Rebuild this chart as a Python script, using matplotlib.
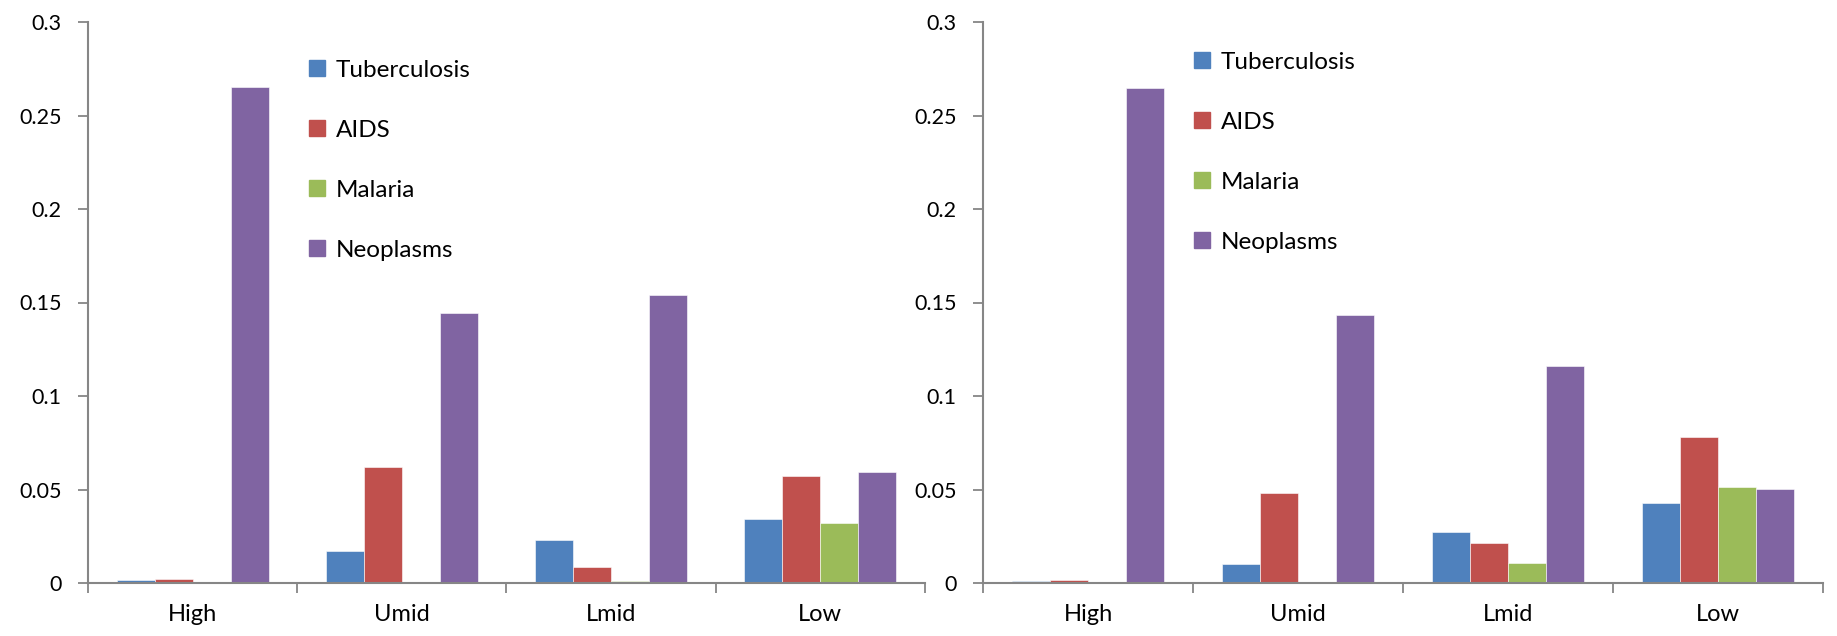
import numpy as np
import matplotlib
matplotlib.use("Agg")
import matplotlib.pyplot as plt
from matplotlib.lines import Line2D

plt.rcParams['font.family'] = ['Lato', 'DejaVu Sans']

categories = ['High', 'Umid', 'Lmid', 'Low']
diseases = ['Tuberculosis', 'AIDS', 'Malaria', 'Neoplasms']
colors = ['#4F81BD', '#C0504D', '#9BBB59', '#8064A2']

# left panel
left_tb = [0.0016, 0.0173, 0.0232, 0.0343]
left_aids = [0.0023, 0.0618, 0.0084, 0.0573]
left_malaria = [0.0, 0.0, 0.0013, 0.0323]
left_neo = [0.2654, 0.1445, 0.1539, 0.0591]

# right panel
right_tb = [0.0013, 0.0100, 0.0273, 0.0430]
right_aids = [0.0018, 0.0479, 0.0213, 0.0779]
right_malaria = [0.0, 0.0, 0.0109, 0.0516]
right_neo = [0.2648, 0.1432, 0.1163, 0.0502]

yticks = [0, 0.05, 0.1, 0.15, 0.2, 0.25, 0.3]
ytick_labels = ['0', '0.05', '0.1', '0.15', '0.2', '0.25', '0.3']

fig = plt.figure(figsize=(18.37, 6.36), dpi=100)
ax1 = fig.add_axes([88 / 1837, 53 / 636, 837 / 1837, 561 / 636])
ax2 = fig.add_axes([983 / 1837, 53 / 636, 840 / 1837, 561 / 636])

width = 1 / 5.5
start = 0.75 / 5.5


def draw_panel(ax, series, legend_anchor):
    x = np.arange(len(categories))
    for i, vals in enumerate(series):
        ax.bar(x + start + i * width, vals, width, align='edge', color=colors[i],
               edgecolor='white', linewidth=0.4, zorder=2)
    ax.set_xlim(0, 4)
    ax.set_ylim(0, 0.3)
    ax.set_yticks(yticks)
    ax.set_yticklabels(ytick_labels)
    ax.set_xticks(np.arange(5))
    ax.set_xticklabels([])
    ax.set_xticks(x + 0.5, minor=True)
    ax.set_xticklabels(categories, minor=True)
    for s in ['top', 'right']:
        ax.spines[s].set_visible(False)
    for s in ['left', 'bottom']:
        ax.spines[s].set_color('#868686')
        ax.spines[s].set_linewidth(1.5)
    ax.tick_params(axis='y', which='major', length=7, width=1.3, color='#868686',
                   labelsize=15.5, pad=12)
    ax.tick_params(axis='x', which='major', length=7, width=1.3, color='#868686')
    ax.tick_params(axis='x', which='minor', length=0, labelsize=17, pad=15)
    handles = [Line2D([], [], marker='s', linestyle='none', markersize=11,
                      markerfacecolor=c, markeredgecolor=c) for c in colors]
    ax.legend(handles, diseases, loc='upper left', bbox_to_anchor=legend_anchor,
              bbox_transform=fig.transFigure, frameon=False, fontsize=17.5,
              labelspacing=1.6, handlelength=0.7, handletextpad=0.4)


draw_panel(ax1, [left_tb, left_aids, left_malaria, left_neo], (287 / 1837, 1 - 38 / 636))
draw_panel(ax2, [right_tb, right_aids, right_malaria, right_neo], (1172 / 1837, 1 - 30 / 636))

fig.savefig('out.png', dpi=100)
